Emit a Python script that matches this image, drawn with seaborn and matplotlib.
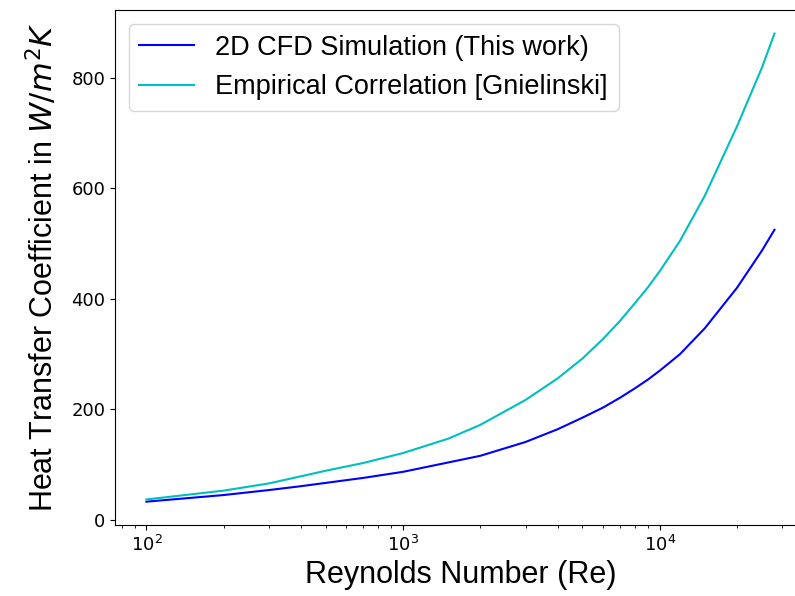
import pandas as pd
import matplotlib
matplotlib.use("Agg")
import matplotlib.pyplot as plt
import seaborn as sns

# Reynolds numbers and heat transfer coefficients (W/m^2K)
re_cfd = [100, 200, 300, 400, 500, 700, 1000,
          2000, 3000, 4000, 5000, 6000, 7000, 8000, 9000, 10000,
          12000, 15000, 20000, 25000, 28000]
h_cfd = [33, 45, 54, 61, 67, 76, 87,
         116, 141, 164, 185, 203, 221, 238, 254, 270,
         300, 347, 420, 487, 525]

re_emp = [100, 200, 300, 500, 700, 1000, 1500, 2000, 3000, 4000, 5000,
          6000, 7000, 8000, 9000, 10000, 12000, 15000, 20000, 25000, 28000]
h_emp = [37, 53, 66, 89, 103, 121, 147, 172, 217, 256, 292,
         327, 360, 392, 421, 450, 505, 587, 712, 818, 880]

df_cfd = pd.DataFrame({'Re': re_cfd, 'h': h_cfd})
df_emp = pd.DataFrame({'Re': re_emp, 'h': h_emp})

fig = plt.figure(figsize=(7.95, 5.96), dpi=100)
ax = fig.add_axes([0.1447, 0.119, 0.869, 0.864])

sns.lineplot(data=df_cfd, x='Re', y='h', ax=ax, color='b', linewidth=1.5,
             label='2D CFD Simulation (This work)')
sns.lineplot(data=df_emp, x='Re', y='h', ax=ax, color='c', linewidth=1.5,
             label='Empirical Correlation [Gnielinski]')
ax.set_xscale('log')

ax.set_xlabel('Reynolds Number (Re)', fontname='Liberation Sans', fontsize=22)
ax.set_ylabel('Heat Transfer Coefficient in $W/m^2K$', fontname='Liberation Sans',
              fontsize=22, labelpad=8)
ax.tick_params(labelsize=13)
ax.legend(loc='upper left', prop={'family': 'Liberation Sans', 'size': 19.5})

fig.savefig('out.png', dpi=100)
